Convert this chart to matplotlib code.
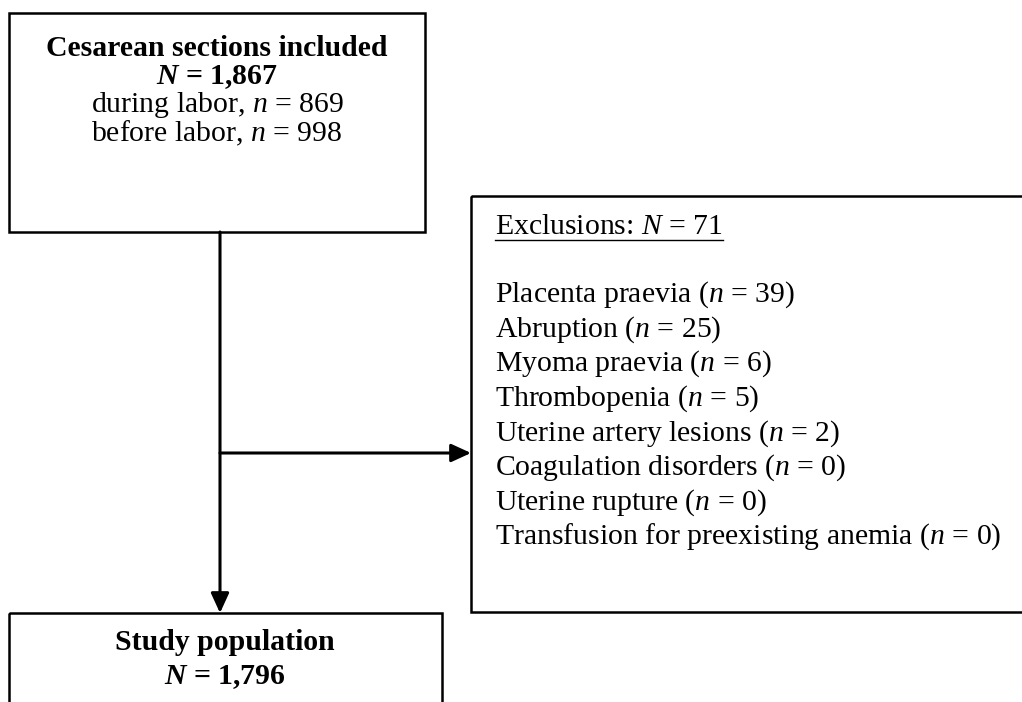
import matplotlib
matplotlib.use("Agg")
import matplotlib.pyplot as plt
from matplotlib.patches import Rectangle

plt.rcParams['font.family'] = ['Liberation Serif', 'DejaVu Serif']
plt.rcParams['mathtext.fontset'] = 'custom'
plt.rcParams['mathtext.rm'] = 'Liberation Serif'
plt.rcParams['mathtext.it'] = 'Liberation Serif:italic'
plt.rcParams['mathtext.bf'] = 'Liberation Serif:bold'
plt.rcParams['mathtext.bfit'] = 'Liberation Serif:italic:bold'

# ---- data ----
total_n = "1,867"
during_labor_n = 869
before_labor_n = 998
excluded_n = 71
exclusion_reasons = ["Placenta praevia", "Abruption", "Myoma praevia", "Thrombopenia",
                     "Uterine artery lesions", "Coagulation disorders", "Uterine rupture",
                     "Transfusion for preexisting anemia"]
exclusion_counts = [39, 25, 6, 5, 2, 0, 0, 0]
study_n = "1,796"

W, H = 1022, 702
fig = plt.figure(figsize=(W / 100, H / 100), dpi=100)
ax = fig.add_axes([0, 0, 1, 1])
ax.set_xlim(0, W)
ax.set_ylim(H, 0)
ax.axis('off')

FS = 21.4
box_lw = 1.8
arrow_lw = 2.2

# boxes
ax.add_patch(Rectangle((9, 13), 416, 219, fill=False, lw=box_lw, ec='black'))
ax.add_patch(Rectangle((471, 196), 600, 416, fill=False, lw=box_lw, ec='black', clip_on=True))
ax.add_patch(Rectangle((9, 613), 433, 120, fill=False, lw=box_lw, ec='black', clip_on=True))

# top box text
cx = 217
ax.text(cx, 48, "Cesarean sections included", ha='center', va='center', fontsize=FS, fontweight='bold')
ax.text(cx, 77, f"$\\mathbfit{{N}}$ = {total_n}", ha='center', va='center', fontsize=FS,
        fontweight='bold')
ax.text(cx, 105, f"during labor, $n$ = {during_labor_n}", ha='center', va='center', fontsize=FS)
ax.text(cx, 133, f"before labor, $n$ = {before_labor_n}", ha='center', va='center', fontsize=FS)

# exclusions box text
lx = 495
t = ax.text(lx, 227, f"Exclusions: $N$ = {excluded_n}", ha='left', va='center', fontsize=FS)
y0 = 295
dy = (537 - 295) / 7
for i, (r, c) in enumerate(zip(exclusion_reasons, exclusion_counts)):
    ax.text(lx, y0 + i * dy, f"{r} ($n$ = {c})", ha='left', va='center', fontsize=FS)

# underline
fig.canvas.draw()
bb = t.get_window_extent(renderer=fig.canvas.get_renderer())
inv = ax.transData.inverted()
(x0d, _), (x1d, _) = inv.transform([(bb.x0, bb.y0), (bb.x1, bb.y0)])
ax.plot([x0d, x1d], [240, 240], color='black', lw=1.0)

# bottom box text
bx = 225
ax.text(bx, 643, "Study population", ha='center', va='center', fontsize=FS, fontweight='bold')
ax.text(bx, 677, f"$\\mathbfit{{N}}$ = {study_n}", ha='center', va='center', fontsize=FS,
        fontweight='bold')

# arrows
style = '-|>,head_length=1.2,head_width=0.55'
ax.annotate("", xy=(220, 613), xytext=(220, 232),
            arrowprops=dict(arrowstyle=style, lw=arrow_lw, color='black', shrinkA=0, shrinkB=0,
                            mutation_scale=10))
ax.annotate("", xy=(471, 453), xytext=(220, 453),
            arrowprops=dict(arrowstyle=style, lw=arrow_lw, color='black', shrinkA=0, shrinkB=0,
                            mutation_scale=10))

fig.savefig("out.png", dpi=100)
